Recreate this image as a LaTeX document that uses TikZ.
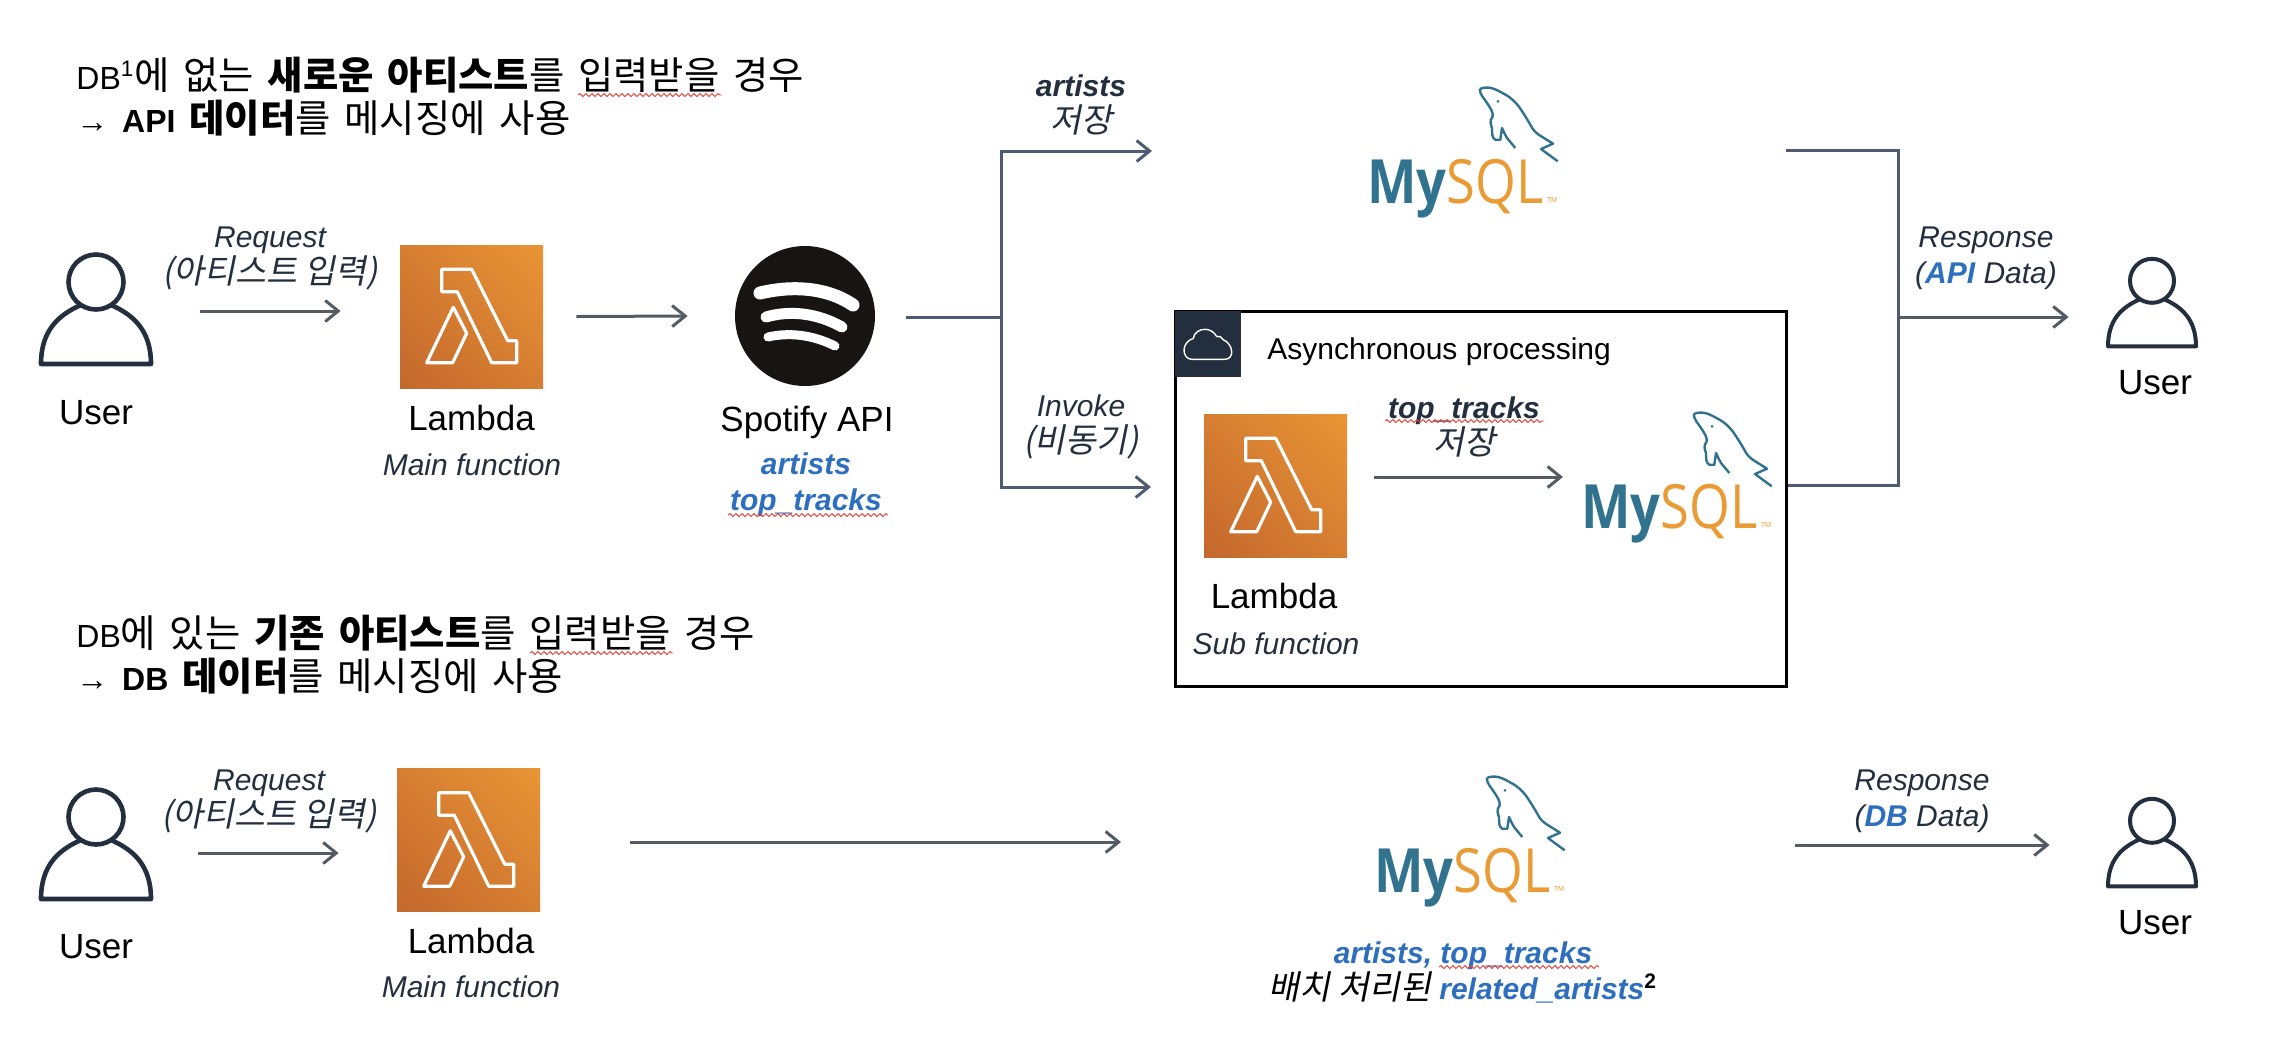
\documentclass[tikz,border=0pt]{standalone}
\usepackage{fontspec}
\usetikzlibrary{arrows.meta,shadings,decorations.pathmorphing}
\setmainfont{Liberation Sans}
\newfontfamily\kr[Scale=1.2,WordSpace=1.6]{Noto Sans CJK KR}
\newfontfamily\krit[FakeSlant=0.2,Scale=1.12]{Noto Sans CJK KR}
\newfontfamily\logofont{Open Sans}

\definecolor{InkColor}{HTML}{232F3E}
\definecolor{ArrowColor}{HTML}{545B64}
\definecolor{BusColor}{HTML}{4F5B73}
\definecolor{DataBlue}{HTML}{2E6EBE}
\definecolor{SquiggleRed}{HTML}{E8453C}
\definecolor{MyTeal}{HTML}{31738F}
\definecolor{MyOrange}{HTML}{E99B36}
\definecolor{LowLeft}{HTML}{C4672D}
\definecolor{MidTone}{HTML}{D67E31}
\definecolor{TopRight}{HTML}{E99535}
\definecolor{SpotifyBlack}{HTML}{191414}

\newcommand{\blue}[1]{\textcolor{DataBlue}{\bfseries\itshape #1}}
\newcommand{\mysql}{\scalebox{0.86}[1]{\logofont\textcolor{MyTeal}{\bfseries My}\textcolor{MyOrange}{SQL}}}

\tikzset{
    x=0.5pt, y=-0.5pt,
    FlowStyle/.style = {line width=1.5pt, color=ArrowColor, -{Straight Barb[length=6.5pt,width=10.5pt]}},
    BusArrow/.style = {line width=1.5pt, color=BusColor, -{Straight Barb[length=6.5pt,width=10.5pt]}},
    BusStyle/.style = {line width=1.5pt, color=BusColor},
    SquiggleStyle/.style = {line width=0.45pt, color=SquiggleRed, decorate, decoration={snake,segment length=3pt,amplitude=0.75pt}},
    HeadText/.style = {inner sep=0pt, align=left, anchor=west, font=\fontsize{16}{21.5}\selectfont},
    IconText/.style = {inner sep=0pt, align=center, font=\fontsize{17.5}{21}\selectfont},
    NoteText/.style = {inner sep=0pt, align=center, text=InkColor, font=\fontsize{15}{18}\selectfont\itshape},
    DataText/.style = {inner sep=0pt, align=center, font=\fontsize{15}{18}\selectfont},
    PersonBox/.style = {inner sep=0pt, minimum width=56pt, minimum height=57pt},
    SmallPersonBox/.style = {inner sep=0pt, minimum width=44.5pt, minimum height=45pt},
    BigPerson/.style = {line width=2.3pt},
    SmallPerson/.style = {line width=2pt, scale=0.8},
    LambdaBox/.style = {rectangle, inner sep=0pt, minimum width=71.5pt, minimum height=71.5pt,
        lower left=LowLeft, upper right=TopRight, upper left=MidTone, lower right=MidTone},
    MySQLText/.style = {inner sep=0pt, anchor=base west, font=\fontsize{30.5}{30.5}\selectfont},
    personicon/.pic = {
        \draw[color=InkColor, line join=round]
            (-55,53) .. controls (-55,20) and (-38,4) .. (-15,-6) -- (15,-6)
            .. controls (38,4) and (55,20) .. (55,53) -- cycle;
        \draw[color=InkColor, fill=white] (0,-29) circle [radius=27.5];
    },
    lambdaicon/.pic = {
        \draw[line width=1.6pt, color=white, line join=round]
            (-29.8,-47.2) -- (0.2,-47.2) -- (36.2,24.2) -- (45.2,24.2) -- (45.2,46.2)
            -- (20.2,46.2) -- (-14.2,-24.8) -- (-29.8,-24.8) -- cycle;
        \draw[line width=1.6pt, color=white, line join=round]
            (-18.2,-9.2) -- (-4.8,16.8) -- (-18.8,46.2) -- (-44.8,46.2) -- cycle;
    },
    spotifyicon/.pic = {
        \draw[line width=6.5pt, color=white, line cap=round] (-45,-23) .. controls (-16,-30) and (20,-30) .. (48,-11);
        \draw[line width=5.5pt, color=white, line cap=round] (-39,1) .. controls (-15,-6) and (12,-3) .. (37,11);
        \draw[line width=4.5pt, color=white, line cap=round] (-37,21) .. controls (-15,16) and (8,19) .. (30,30);
    },
    dolphinicon/.pic = {
        \draw[line width=1.2pt, color=MyTeal, line join=round]
            (112.7,-114) .. controls (122,-118) and (130,-113) .. (136.7,-109.3)
            .. controls (145,-105) and (148,-101) .. (151.7,-96.7)
            .. controls (157,-89) and (160,-84) .. (163.3,-78.3)
            .. controls (166,-73) and (168,-71) .. (171.7,-68.3)
            -- (186,-59.3) -- (174,-54) -- (190.7,-41.7);
        \draw[line width=1.2pt, color=MyTeal, line join=round]
            (112.7,-114) .. controls (113,-108) and (117,-105) .. (120,-100)
            .. controls (124,-94) and (126,-91) .. (125.7,-86.7)
            .. controls (122,-82) and (124,-78) .. (125,-75)
            .. controls (125,-69) and (125,-65) .. (128.3,-63.3)
            -- (133.3,-63.3) -- (135,-75)
            .. controls (137,-71) and (138,-68) .. (140,-65) -- (148.3,-55);
        \fill[color=MyTeal] (131,-101.7) circle [radius=1.5];
        \node[inner sep=0pt, text=MyOrange, font=\fontsize{3.6}{4}\selectfont] (-tm) at (185,-3) {TM};
    },
    cloudicon/.pic = {
        \draw[line width=0.7pt, color=white]
            (-16.3,15.3) -- (17,15.3) .. controls (22,15.3) and (24,11) .. (23.7,7.7)
            .. controls (23.5,2) and (19,-3) .. (15.3,-4.2)
            .. controls (14,-7) and (11,-8.5) .. (8.7,-7.5)
            .. controls (6,-12) and (2,-14.7) .. (-3,-14.7)
            .. controls (-9,-14.7) and (-14,-11) .. (-14.7,-5.7)
            .. controls (-20,-4) and (-24,1) .. (-24,6)
            .. controls (-24,11) and (-21,15.3) .. (-16.3,15.3) -- cycle;
    }
}

\begin{document}
\begin{tikzpicture}
    \path[use as bounding box] (0,0) rectangle (2292,1046);

    \node[HeadText] (T1) at (76,96.5) {DB\textsuperscript{1}{\kr 에 없는 }{\kr\bfseries 새로운 아티스트}{\kr 를 입력받을 경우}\\
        →{\kr\ }\textbf{API}{\kr\bfseries\ 데이터}{\kr 를 메시징에 사용}};
    \node[HeadText] (T2) at (76,655) {DB{\kr 에 있는 }{\kr\bfseries 기존 아티스트}{\kr 를 입력받을 경우}\\
        →{\kr\ }\textbf{DB}{\kr\bfseries\ 데이터}{\kr 를 메시징에 사용}};
    \draw[SquiggleStyle] (578,95) -- (722,95);
    \draw[SquiggleStyle] (530,653) -- (673,653);

    \node[PersonBox] (U1) at (96,311) {};
    \pic[BigPerson] at (U1) {personicon};
    \node[IconText] (U1T) at (96,413) {User};
    \node[LambdaBox] (L1) at (471.5,316.5) {};
    \pic at (L1) {lambdaicon};
    \node[IconText] (L1T) at (471.5,418) {Lambda};
    \node[NoteText] (L1N) at (472,465) {Main function};
    \node[circle, fill=SpotifyBlack, inner sep=0pt, minimum size=70pt] (S) at (805,316) {};
    \pic at (S) {spotifyicon};
    \node[IconText] (ST) at (807,422) {Spotify API};
    \node[DataText] (SD) at (806,485) {\blue{artists}\\\blue{top\_tracks}};
    \draw[SquiggleStyle] (728,515) -- (888,515);

    \node[NoteText] (R1) at (270,258) {Request\\{\krit (아티스트 입력)}};
    \draw[FlowStyle] ([shift={(48,0)}]U1.east) -- ([shift={(-59,-5.5)}]L1.west);
    \draw[FlowStyle] ([shift={(33,0)}]L1.east) -- ([shift={(-47,0)}]S.west);

    \node[draw=black, line width=1.5pt, inner sep=0pt, minimum width=305.25pt, minimum height=187.75pt] (B) at (1480.75,498.75) {};
    \node[fill=InkColor, inner sep=0pt, minimum size=33pt] (H) at (1208,344) {};
    \pic at (H) {cloudicon};
    \node[DataText, anchor=west] (HT) at (1267,352) {Asynchronous processing};

    \coordinate (BT) at (1001,151);
    \coordinate (BM) at (1001,317);
    \coordinate (BB) at (1001,487);
    \coordinate (D1in) at (1152,151);
    \draw[BusStyle] ([shift={(31,1)}]S.east) -- (BM);
    \draw[BusArrow] (BM) |- (D1in);
    \draw[BusArrow] (BM) |- ([shift={(-23,-11.75)}]B.west);
    \node[NoteText] (N1) at (1081,105) {\textbf{artists}\\{\krit 저장}};
    \node[NoteText] (N2) at (1081,427) {Invoke\\{\krit (비동기)}};

    \node[MySQLText] (D1) at (1367,203) {\mysql};
    \pic (D1L) at (D1.base west) {dolphinicon};

    \node[LambdaBox] (L2) at (1275.5,485.5) {};
    \pic at (L2) {lambdaicon};
    \node[IconText] (L2T) at (1274,596) {Lambda};
    \node[NoteText] (L2N) at (1276,644) {Sub function};
    \node[NoteText] (N3) at (1464,427) {\textbf{top\_tracks}\\{\krit 저장}};
    \draw[SquiggleStyle] (1385,421) -- (1544,421);
    \node[MySQLText] (D2) at (1581,528) {\mysql};
    \pic (D2L) at (D2.base west) {dolphinicon};
    \coordinate (D2in) at (1563,477);
    \draw[FlowStyle] ([shift={(27,-8.5)}]L2.east) -- (D2in);

    \coordinate (D1out) at (1786,150);
    \coordinate (BR) at (1898,485);
    \coordinate (BRM) at (1898,317);
    \draw[BusStyle] (D1out) -| (BR) -- (BR -| B.east);
    \node[SmallPersonBox] (U3) at (2152,304) {};
    \pic[SmallPerson] at (U3) {personicon};
    \node[IconText] (U3T) at (2155,383) {User};
    \node[NoteText] (R2) at (1986,258) {Response\\(\blue{API} Data)};
    \draw[FlowStyle] (BRM) -- ([shift={(-38.5,13)}]U3.west);

    \node[PersonBox] (U2) at (96,846) {};
    \pic[BigPerson] at (U2) {personicon};
    \node[IconText] (U2T) at (96,947) {User};
    \node[LambdaBox] (L3) at (468.5,840) {};
    \pic at (L3) {lambdaicon};
    \node[IconText] (L3T) at (471,941) {Lambda};
    \node[NoteText] (L3N) at (471,987) {Main function};
    \node[NoteText] (R3) at (269,801) {Request\\{\krit (아티스트 입력)}};
    \draw[FlowStyle] ([shift={(46,7)}]U2.east) -- ([shift={(-58,13)}]L3.west);

    \coordinate (D3in) at (1121,842);
    \draw[FlowStyle] ([shift={(90,2)}]L3.east) -- (D3in);
    \node[MySQLText] (D3) at (1374,892) {\mysql};
    \pic (D3L) at (D3.base west) {dolphinicon};
    \node[DataText] (D3D) at (1463,972) {\blue{artists, top\_tracks}\\{\krit 배치 처리된} \blue{related\_artists}\textsuperscript{\textbf{2}}};
    \draw[SquiggleStyle] (1439,967) -- (1599,967);

    \coordinate (D3out) at (1795,845);
    \node[SmallPersonBox] (U4) at (2152,844) {};
    \pic[SmallPerson] at (U4) {personicon};
    \node[IconText] (U4T) at (2155,923) {User};
    \node[NoteText] (R4) at (1922,801) {Response\\(\blue{DB} Data)};
    \draw[FlowStyle] (D3out) -- ([shift={(-57.5,1)}]U4.west);
\end{tikzpicture}
\end{document}
